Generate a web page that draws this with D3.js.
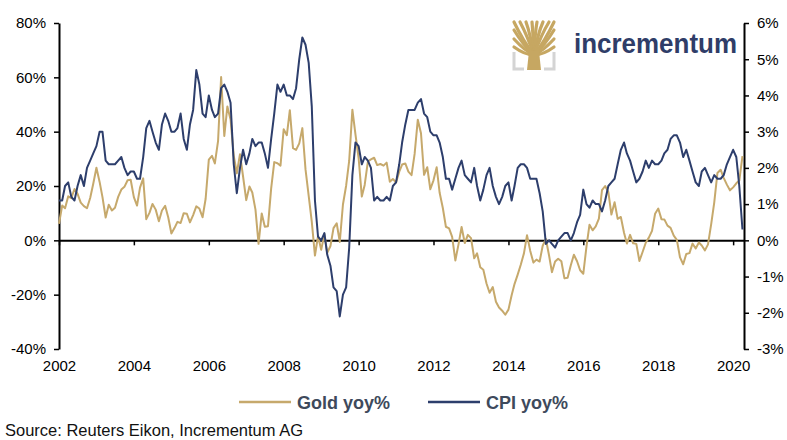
<!DOCTYPE html>
<html>
<head>
<meta charset="utf-8">
<script src="https://cdn.jsdelivr.net/npm/d3@7"></script>
<style>
  body { margin: 0; background: #fff; }
  text { font-family: "Liberation Sans", Arial, sans-serif; }
</style>
</head>
<body>
<svg width="787" height="440"></svg>
<script>
// monthly values, Jan 2002 .. Apr 2020
const gold = [
  6.1, 12.8, 11.8, 16.2, 15.5, 18.9, 17.1, 13.9, 12.6, 11.8, 15.6, 20.8, // 2002
  26.7, 21.5, 15.9, 8.4, 13.1, 11.0, 12.0, 16.0, 18.7, 19.7, 22.1, 22.3, // 2003
  15.9, 12.8, 19.4, 22.8, 7.8, 10.1, 13.4, 11.3, 7.0, 11.0, 12.7, 8.5, // 2004
  2.5, 4.6, 6.8, 6.4, 10.0, 9.8, 6.6, 9.3, 12.5, 11.7, 8.5, 15.3, // 2005
  29.7, 31.1, 28.3, 36.5, 60.1, 38.4, 49.3, 44.5, 31.2, 24.7, 31.7, 23.5, // 2006
  14.8, 19.8, 17.6, 11.3, -1.3, 9.9, 5.0, 5.2, 19.1, 28.8, 28.4, 27.5, // 2007
  40.9, 38.7, 47.9, 33.9, 33.3, 35.7, 41.3, 26.1, 16.4, 6.9, -5.6, 1.6, // 2008
  -3.5, 2.3, -4.6, -2.1, 4.5, 6.3, -0.6, 13.2, 20.1, 29.3, 48.1, 39.0, // 2009
  30.2, 16.1, 20.4, 29.0, 29.8, 30.4, 27.7, 28.1, 27.5, 28.6, 21.6, 22.6, // 2010
  21.3, 25.3, 27.9, 28.3, 25.3, 24.0, 31.8, 44.4, 39.4, 24.1, 26.9, 18.8, // 2011
  22.1, 26.9, 17.5, 11.9, 5.0, 4.4, 1.3, -7.4, -1.5, 4.9, -1.0, 2.0, // 2012
  0.8, -6.6, -4.8, -9.9, -10.8, -15.9, -19.3, -17.2, -22.6, -24.7, -25.9, -27.4, // 2013
  -25.5, -20.2, -16.1, -12.6, -9.0, -4.8, 1.9, -3.8, -8.2, -7.1, -7.8, -2.0, // 2014
  0.5, -5.6, -11.7, -7.8, -6.8, -7.7, -14.0, -13.8, -9.2, -5.3, -7.7, -11.0, // 2015
  -12.3, -2.2, 5.7, 3.7, 5.1, 8.0, 18.5, 20.0, 17.8, 9.5, 14.0, 7.9, // 2016
  8.6, 2.8, -1.2, 2.0, -1.1, -1.3, -7.6, -4.3, -0.9, 1.0, 3.5, 9.8, // 2017
  11.7, 7.8, 7.7, 5.4, 4.6, 1.7, 0.2, -6.3, -8.8, -5.0, -4.7, -1.2, // 2018
  -3.0, -0.8, -1.9, -3.7, -1.5, 6.0, 14.0, 24.8, 26.0, 23.0, 20.5, 18.4, // 2019
  19.5, 21.0, 22.0, 31.0 // 2020
];

const cpi = [
  1.1, 1.1, 1.5, 1.6, 1.2, 1.1, 1.5, 1.8, 1.5, 2.0, 2.2, 2.4, // 2002
  2.6, 3.0, 3.0, 2.2, 2.1, 2.1, 2.1, 2.2, 2.3, 2.0, 1.8, 1.9, // 2003
  1.9, 1.7, 1.7, 2.3, 3.1, 3.3, 3.0, 2.7, 2.5, 3.2, 3.5, 3.3, // 2004
  3.0, 3.0, 3.1, 3.5, 2.8, 2.5, 3.2, 3.6, 4.7, 4.3, 3.5, 3.4, // 2005
  4.0, 3.6, 3.4, 3.5, 4.2, 4.3, 4.1, 3.8, 2.1, 1.3, 2.0, 2.5, // 2006
  2.1, 2.4, 2.8, 2.6, 2.7, 2.7, 2.4, 2.0, 2.8, 3.5, 4.3, 4.1, // 2007
  4.3, 4.0, 4.0, 3.9, 4.2, 5.0, 5.6, 5.4, 4.9, 3.7, 1.1, 0.1, // 2008
  0.0, 0.2, -0.4, -0.7, -1.3, -1.4, -2.1, -1.5, -1.3, -0.2, 1.8, 2.7, // 2009
  2.6, 2.1, 2.3, 2.2, 2.0, 1.1, 1.2, 1.1, 1.1, 1.2, 1.1, 1.5, // 2010
  1.6, 2.1, 2.7, 3.2, 3.6, 3.6, 3.6, 3.8, 3.9, 3.5, 3.4, 3.0, // 2011
  2.9, 2.9, 2.7, 2.3, 1.7, 1.7, 1.4, 1.7, 2.0, 2.2, 1.8, 1.7, // 2012
  1.6, 2.0, 1.5, 1.1, 1.4, 1.8, 2.0, 1.5, 1.2, 1.0, 1.2, 1.5, // 2013
  1.6, 1.1, 1.5, 2.0, 2.1, 2.1, 2.0, 1.7, 1.7, 1.7, 1.3, 0.8, // 2014
  -0.1, 0.0, -0.1, -0.2, 0.0, 0.1, 0.2, 0.2, 0.0, 0.2, 0.5, 0.7, // 2015
  1.4, 1.0, 0.9, 1.1, 1.0, 1.0, 0.8, 1.1, 1.5, 1.6, 1.7, 2.1, // 2016
  2.5, 2.7, 2.4, 2.2, 1.9, 1.6, 1.7, 1.9, 2.2, 2.0, 2.2, 2.1, // 2017
  2.1, 2.2, 2.4, 2.5, 2.8, 2.9, 2.9, 2.7, 2.3, 2.5, 2.2, 1.9, // 2018
  1.6, 1.5, 1.9, 2.0, 1.8, 1.6, 1.8, 1.7, 1.7, 1.8, 2.1, 2.3, // 2019
  2.5, 2.3, 1.5, 0.3 // 2020
];

const leftTicks = [-40, -20, 0, 20, 40, 60, 80];
const rightTicks = [-3, -2, -1, 0, 1, 2, 3, 4, 5, 6];
const yearTicks = [2002, 2004, 2006, 2008, 2010, 2012, 2014, 2016, 2018, 2020];

const goldColor = "#c6a96c";
const cpiColor = "#2d3e6c";

const svg = d3.select("svg");
const start = new Date(2002, 0, 1);
const months = gold.map((d, i) => d3.timeMonth.offset(start, i));

const x = d3.scaleTime()
  .domain([start, new Date(2020, 3, 16)])
  .range([59, 744]);
const yLeft = d3.scaleLinear().domain([-40, 80]).range([349, 23]);
const yRight = d3.scaleLinear().domain([-3, 6]).range([349, 23]);

const styleAxis = (g) => {
  g.select(".domain").attr("stroke", "#000").attr("stroke-width", 2);
  g.selectAll(".tick line").attr("stroke", "#000").attr("stroke-width", 1.5);
  g.selectAll("text").attr("fill", "#000").style("font-size", "15px")
    .style("font-family", "'Liberation Sans', Arial, sans-serif");
};

// left axis
svg.append("g")
  .attr("transform", "translate(59,0)")
  .call(d3.axisLeft(yLeft).tickValues(leftTicks).tickSize(5).tickSizeOuter(0)
    .tickPadding(8).tickFormat((d) => d + "%"))
  .call(styleAxis);

// right axis
svg.append("g")
  .attr("transform", "translate(744,0)")
  .call(d3.axisRight(yRight).tickValues(rightTicks).tickSize(5).tickSizeOuter(0)
    .tickPadding(8).tickFormat((d) => d + "%"))
  .call(styleAxis);

// zero line with year ticks
const yearDates = yearTicks.map((y) => new Date(y, 0, 1));
svg.append("g")
  .attr("transform", `translate(0,${yLeft(0)})`)
  .call(d3.axisBottom(x).tickValues(yearDates).tickSize(5).tickSizeOuter(0).tickFormat(""))
  .call(styleAxis);

// year labels below the plot
const xLabels = svg.append("g")
  .attr("transform", "translate(0,349)")
  .call(d3.axisBottom(x).tickValues(yearDates).tickSize(0).tickPadding(11)
    .tickFormat(d3.timeFormat("%Y")))
  .call(styleAxis);
xLabels.select(".domain").remove();

// lines
const lineGold = d3.line().x((d, i) => x(months[i])).y((d) => yLeft(d));
const lineCpi = d3.line().x((d, i) => x(months[i])).y((d) => yRight(d));

svg.append("path").datum(gold)
  .attr("d", lineGold).attr("fill", "none")
  .attr("stroke", goldColor).attr("stroke-width", 2).attr("stroke-linejoin", "round");

svg.append("path").datum(cpi)
  .attr("d", lineCpi).attr("fill", "none")
  .attr("stroke", cpiColor).attr("stroke-width", 2).attr("stroke-linejoin", "round");

// legend
const legend = [
  { name: "Gold yoy%", color: goldColor, x: 239 },
  { name: "CPI yoy%", color: cpiColor, x: 428 }
];
const lg = svg.append("g").selectAll("g").data(legend).join("g")
  .attr("transform", (d) => `translate(${d.x},402)`);
lg.append("line").attr("x1", 0).attr("x2", 52)
  .attr("stroke", (d) => d.color).attr("stroke-width", 2.5);
lg.append("text").attr("x", 58).attr("y", 7)
  .style("font-size", "18px").style("font-weight", "bold")
  .attr("fill", "#3e4a5c").text((d) => d.name);

// source
svg.append("text").attr("x", 5).attr("y", 436)
  .style("font-size", "16.5px").attr("fill", "#111")
  .text("Source: Reuters Eikon, Incrementum AG");

// logo
const logo = svg.append("g").attr("transform", "translate(513,21)");
logo.append("path").attr("d", "M1,31 V48 H11 M41,31 V48 H31")
  .attr("fill", "none").attr("stroke", "#d4d4d4").attr("stroke-width", 3);
const branches = [
  "M21,34 Q10,20 1,1", "M21,34 Q14,14 7,1", "M21,34 Q17,12 13,1",
  "M21,34 Q20,12 19,1", "M21,34 Q22,12 24,1", "M21,34 Q25,12 30,1",
  "M21,34 Q28,14 36,1", "M21,34 Q32,20 41,1",
  "M21,34 Q10,24 1,9", "M21,34 Q32,24 41,9",
  "M21,34 Q12,30 1,18", "M21,34 Q30,30 41,18",
  "M21,34 Q12,34 1,26", "M21,34 Q30,34 41,26"
];
logo.selectAll("path.br").data(branches).join("path")
  .attr("class", "br").attr("d", (d) => d)
  .attr("fill", "none").attr("stroke", "#c6a762").attr("stroke-width", 3.2)
  .attr("stroke-linecap", "round");
logo.append("path").attr("d", "M16,30 L26,30 L28,49 L14,49 Z").attr("fill", "#c6a762");

svg.append("text").attr("x", 574).attr("y", 53)
  .attr("textLength", 163).attr("lengthAdjust", "spacingAndGlyphs")
  .style("font-size", "27px").style("font-weight", "bold")
  .attr("fill", "#2f3d68").text("incrementum");
</script>
</body>
</html>
